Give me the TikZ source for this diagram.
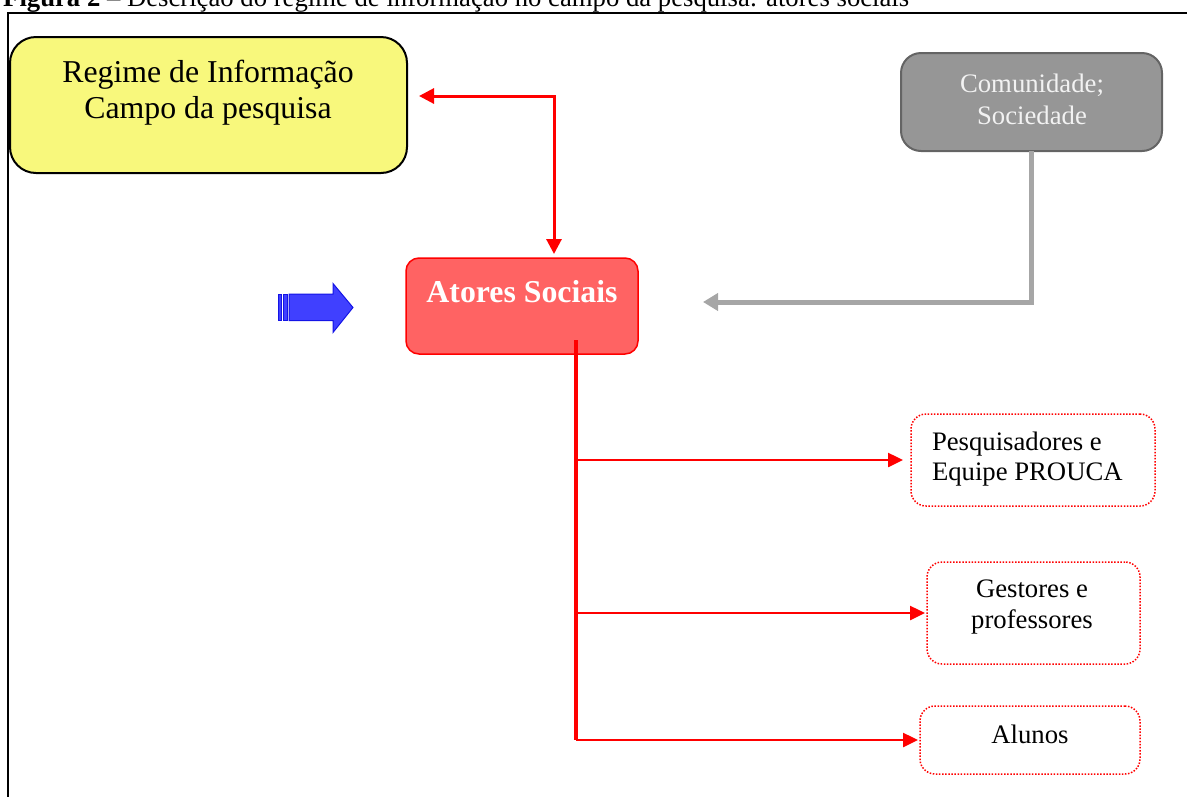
\documentclass[tikz,border=0pt]{standalone}
\usepackage{fontspec}
\setmainfont{Liberation Serif}
\usetikzlibrary{arrows.meta}
\definecolor{boxyellow}{RGB}{248,248,124}
\definecolor{atoresfill}{RGB}{255,99,99}
\definecolor{redline}{RGB}{255,0,0}
\definecolor{commfill}{RGB}{150,150,150}
\definecolor{commdraw}{RGB}{100,100,100}
\definecolor{commtext}{RGB}{242,242,242}
\definecolor{grayline}{RGB}{166,166,166}
\definecolor{bluefill}{RGB}{64,64,255}
\definecolor{bluedraw}{RGB}{20,20,230}
\tikzset{
  shapebox/.style={rectangle, inner sep=0pt, outer sep=0pt},
  lbl/.style={inner sep=0pt, outer sep=0pt, align=center, font=\fontsize{26.7}{30.5}\selectfont},
  biglbl/.style={inner sep=0pt, outer sep=0pt, align=center, font=\fontsize{31.8}{36}\selectfont},
  dotbox/.style={shapebox, draw=redline, line width=1.5pt, dash pattern=on 1.5pt off 1.6pt, rounded corners=15pt},
  redarrow/.style={draw=redline, line width=3pt, -{Triangle[length=15pt,width=15pt]}},
  branch/.style={draw=redline, line width=2.5pt, -{Triangle[length=15pt,width=14pt]}},
  grayarrow/.style={draw=grayline, line width=5pt, -{Triangle[length=15pt,width=17pt]}},
}
\begin{document}
\begin{tikzpicture}[x=1pt,y=-1pt]
\useasboundingbox (0,0) rectangle (1187,796);
\clip (0,0) rectangle (1187,796);
% caption (cut off at the top, as in the reference)
\node[anchor=base west, inner sep=0pt, font=\fontsize{26.7}{30}\selectfont] (caption) at (3,6) {\textbf{Figura 2} – Descrição do regime de informação no campo da pesquisa: atores sociais};
% frame
\draw[line width=1.8pt] (8,820) -- (8,13) -- (1210,13);
% yellow box
\node[shapebox, draw=black, line width=2pt, fill=boxyellow, rounded corners=26pt, minimum width=397pt, minimum height=136pt, anchor=north west] (regime) at (10,37) {};
\node[biglbl] (regimelbl) at (208,93) {Regime de Informação\\Campo da pesquisa};
% gray box
\node[shapebox, draw=commdraw, line width=2pt, fill=commfill, rounded corners=20pt, minimum width=261pt, minimum height=98pt, anchor=north west] (comm) at (901,53) {};
\node[lbl, text=commtext, font=\fontsize{26.7}{32}\selectfont] (commlbl) at (1032,99) {Comunidade;\\Sociedade};
% atores box
\node[shapebox, draw=redline, line width=1.5pt, fill=atoresfill, rounded corners=13pt, minimum width=232pt, minimum height=96pt, anchor=north west] (atores) at (406,258) {};
\node[biglbl, text=white, font=\bfseries\fontsize{31.8}{36}\selectfont] (atoreslbl) at (522,292) {Atores Sociais};
% dotted boxes
\node[dotbox, minimum width=244pt, minimum height=92pt, anchor=north west] (pesq) at (911,414) {};
\node[lbl, anchor=west, align=left, font=\fontsize{26.7}{30}\selectfont] (pesqlbl) at (932,459) {Pesquisadores e\\Equipe PROUCA};
\node[dotbox, minimum width=213pt, minimum height=102pt, anchor=north west] (gest) at (927,562) {};
\node[lbl, font=\fontsize{26.7}{31}\selectfont] (gestlbl) at (1032,607) {Gestores e\\professores};
\node[dotbox, minimum width=220pt, minimum height=68pt, anchor=north west] (alunos) at (920,706) {};
\node[lbl] (alunoslbl) at (1030,734) {Alunos};
% blue block arrow
\fill[bluefill, draw=bluedraw, line width=1pt] (278,294) rectangle (281.5,320.5);
\fill[bluefill, draw=bluedraw, line width=1pt] (283.5,294) rectangle (287,320.5);
\filldraw[fill=bluefill, draw=bluedraw, line width=1pt, line join=miter] (289,294) -- (333,294) -- (333,283.5) -- (353,307.5) -- (333,332.5) -- (333,320.5) -- (289,320.5) -- cycle;
% connectors
\draw[redarrow, {Triangle[length=15pt,width=15pt]}-{Triangle[length=15pt,width=15pt]}] ([shift={(12,-9)}]regime.east) -| ([shift={(32,-4)}]atores.north);
\draw[grayarrow] (comm.south) |- ([shift={(65,-4)}]atores.east);
\coordinate (trunk) at (576,340);
\draw[draw=redline, line width=3.5pt] (trunk) -- (trunk |- alunos.west);
\draw[branch] (trunk |- pesq.west) -- ([xshift=-8pt]pesq.west);
\draw[branch] (trunk |- gest.west) -- ([xshift=-2pt]gest.west);
\draw[branch] (trunk |- alunos.west) -- ([xshift=-2pt]alunos.west);
\end{tikzpicture}
\end{document}
